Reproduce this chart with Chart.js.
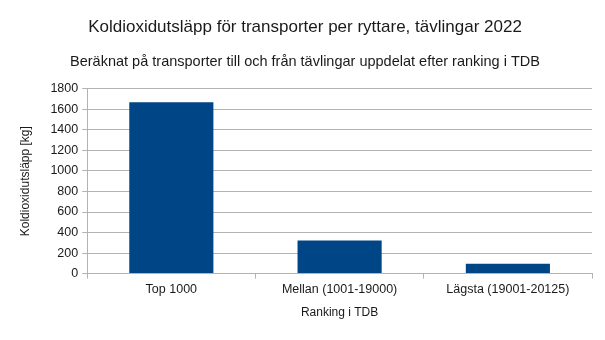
<!DOCTYPE html>
<html>
<head>
<meta charset="utf-8">
<script src="https://cdn.jsdelivr.net/npm/chart.js@4"></script>
<style>
html,body{margin:0;padding:0;background:#fff;}
#wrap{width:605px;height:340px;}
</style>
</head>
<body>
<div id="wrap"><canvas id="c" width="605" height="340"></canvas></div>
<script>
const categories = ["Top 1000", "Mellan (1001-19000)", "Lägsta (19001-20125)"];
const emissions = [1670, 322, 95];
const yTicks = [0, 200, 400, 600, 800, 1000, 1200, 1400, 1600, 1800];
const titleText = "Koldioxidutsläpp för transporter per ryttare, tävlingar 2022";
const subtitleText = "Beräknat på transporter till och från tävlingar uppdelat efter ranking i TDB";
const yTitle = "Koldioxidutsläpp [kg]";
const xTitle = "Ranking i TDB";

const FONT = "'Liberation Sans', Arial, sans-serif";
const GRID = '#b3b3b3';
const TEXT = '#1a1a1a';

new Chart(document.getElementById('c'), {
  type: 'bar',
  data: {
    labels: categories,
    datasets: [{
      data: emissions,
      backgroundColor: '#004586',
      borderWidth: 0,
      categoryPercentage: 1.0,
      barPercentage: 0.5
    }]
  },
  options: {
    responsive: false,
    animation: false,
    devicePixelRatio: 1,
    layout: { padding: { left: 18, right: 13, top: 17, bottom: 20 } },
    plugins: {
      legend: { display: false },
      tooltip: { enabled: false },
      title: {
        display: true, text: titleText, color: TEXT,
        font: { family: FONT, size: 17, weight: 'normal' },
        padding: { top: 0, bottom: 16 }
      },
      subtitle: {
        display: true, text: subtitleText, color: TEXT,
        font: { family: FONT, size: 14.5, weight: 'normal' },
        padding: { top: 0, bottom: 18 }
      }
    },
    scales: {
      x: {
        offset: true,
        grid: {
          offset: true,
          drawOnChartArea: true,
          color: (ctx) => ctx.index === categories.length ? GRID : 'rgba(0,0,0,0)',
          tickColor: GRID,
          tickLength: 5
        },
        border: { color: GRID },
        ticks: { color: TEXT, font: { family: FONT, size: 12.5 }, padding: 3, maxRotation: 0 },
        title: { display: true, text: xTitle, color: TEXT, font: { family: FONT, size: 12 }, padding: { top: 6, bottom: 0 } }
      },
      y: {
        min: 0, max: 1800,
        afterBuildTicks: (axis) => { axis.ticks = yTicks.map(v => ({ value: v })); },
        grid: { color: GRID, tickColor: GRID, tickLength: 5 },
        border: { color: GRID },
        ticks: { color: TEXT, font: { family: FONT, size: 12.5 }, padding: 4, callback: (v) => String(v) },
        title: { display: true, text: yTitle, color: TEXT, font: { family: FONT, size: 12 }, padding: { top: 0, bottom: 14 } }
      }
    }
  }
});
</script>
</body>
</html>
